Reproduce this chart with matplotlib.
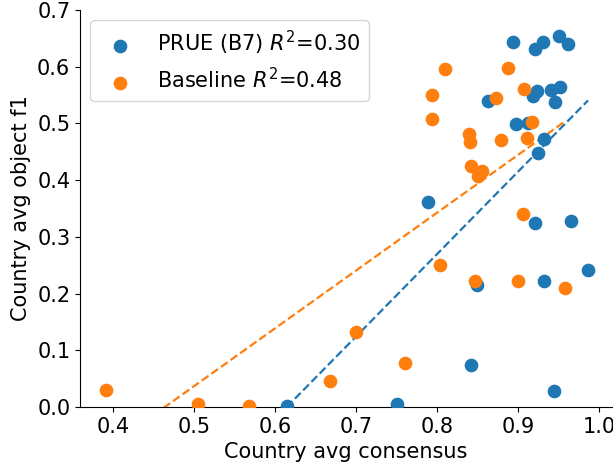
import numpy as np
import matplotlib
matplotlib.use("Agg")
import matplotlib.pyplot as plt

prue_x = [0.893, 0.921, 0.930, 0.950, 0.961, 0.923, 0.918, 0.940, 0.951, 0.945,
          0.863, 0.897, 0.912, 0.931, 0.924, 0.788, 0.921, 0.965, 0.986, 0.932,
          0.849, 0.841, 0.944, 0.750, 0.614]
prue_y = [0.643, 0.631, 0.643, 0.655, 0.640, 0.558, 0.548, 0.559, 0.564, 0.538,
          0.540, 0.499, 0.501, 0.473, 0.447, 0.362, 0.325, 0.328, 0.242, 0.223,
          0.215, 0.074, 0.029, 0.006, 0.001]
base_x = [0.810, 0.887, 0.793, 0.793, 0.907, 0.872, 0.917, 0.839, 0.840, 0.878,
          0.910, 0.841, 0.855, 0.850, 0.906, 0.803, 0.847, 0.900, 0.958, 0.760,
          0.391, 0.504, 0.567, 0.667, 0.700]
base_y = [0.596, 0.598, 0.550, 0.507, 0.560, 0.544, 0.503, 0.481, 0.467, 0.471,
          0.474, 0.425, 0.417, 0.408, 0.340, 0.250, 0.223, 0.223, 0.209, 0.077,
          0.030, 0.005, 0.002, 0.045, 0.132]

labels = ["PRUE (B7) $R^2$=0.30", "Baseline $R^2$=0.48"]
# fitted lines (slope, intercept)
prue_fit = (1.454, -0.893)
base_fit = (1.02, -0.473)

fig = plt.figure(figsize=(6.13, 4.65), dpi=100)
ax = fig.add_axes([80/613, 1-407/465, (612-80)/613, (407-10)/465])

ax.scatter(prue_x, prue_y, s=78, color="C0", label=labels[0], zorder=3)
ax.scatter(base_x, base_y, s=78, color="C1", label=labels[1], zorder=3)

for xs, fit, c in [(prue_x, prue_fit, "C0"), (base_x, base_fit, "C1")]:
    xx = np.array([min(xs), max(xs)])
    ax.plot(xx, fit[0]*xx + fit[1], "--", color=c, lw=1.6)

ax.set_xlim(0.359, 1.0155)
ax.set_ylim(0, 0.7)
ax.spines["top"].set_visible(False)
ax.spines["right"].set_visible(False)
ax.tick_params(labelsize=15)
ax.set_xlabel("Country avg consensus", fontsize=15)
ax.set_ylabel("Country avg object f1", fontsize=15)
ax.legend(loc="upper left", fontsize=15)
fig.savefig("out.png", dpi=100)
